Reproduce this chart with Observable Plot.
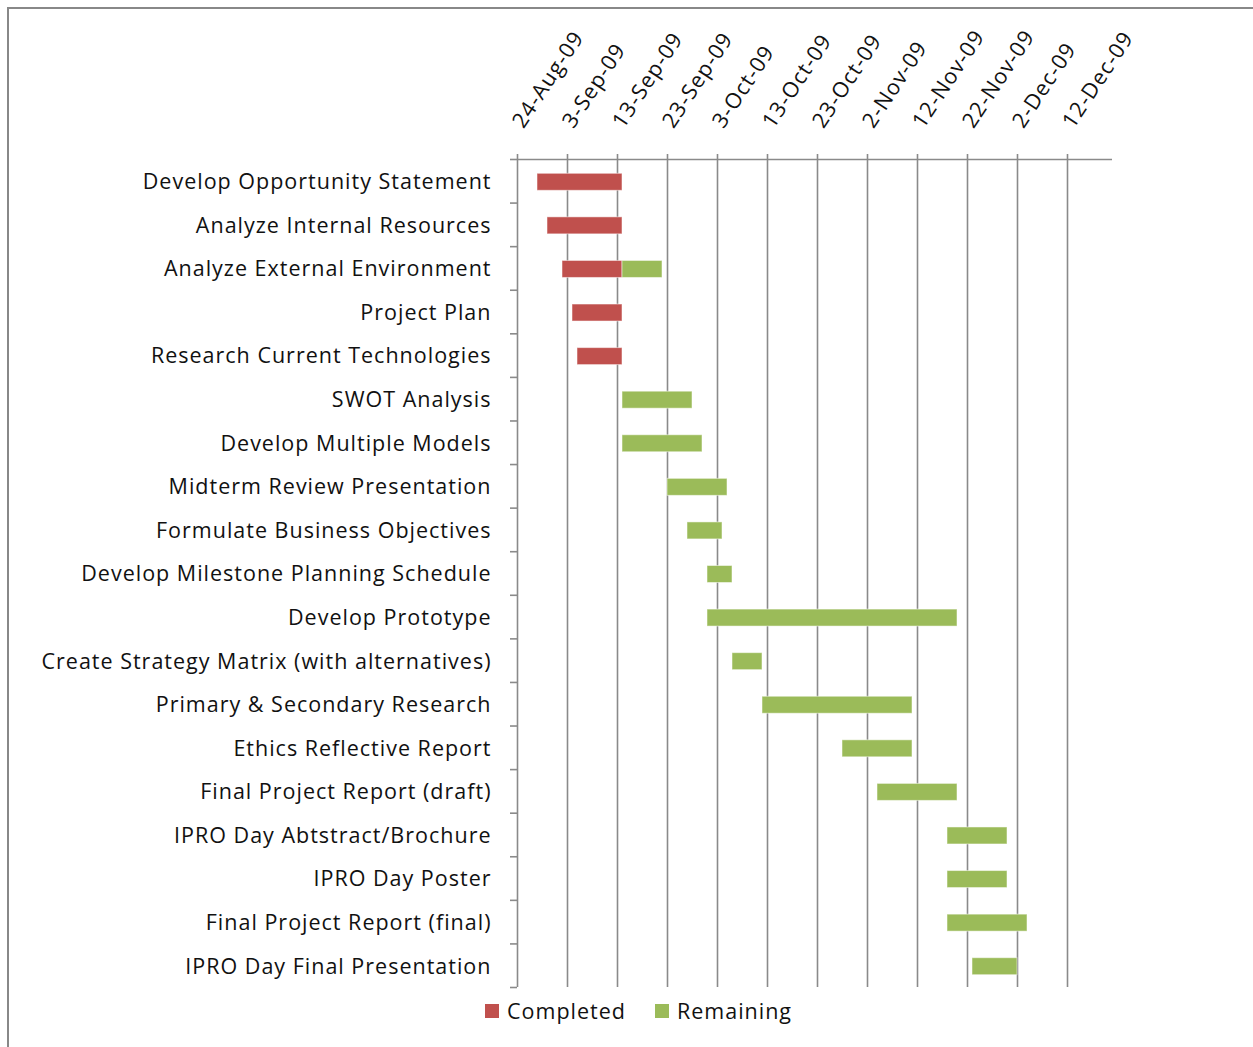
<!DOCTYPE html>
<html>
<head>
<meta charset="utf-8">
<script src="https://cdn.jsdelivr.net/npm/d3@7"></script>
<script src="https://cdn.jsdelivr.net/npm/@observablehq/plot@0.6"></script>
<style>
  html, body { margin: 0; padding: 0; background: #fff; overflow: hidden; }
  body { width: 1253px; height: 1047px; position: relative; font-family: "Open Sans", sans-serif; }
  #frame { position: absolute; left: 7px; top: 7px; width: 1300px; height: 1100px; border: 2px solid #888; box-sizing: border-box; }
  #chart { position: absolute; left: 0; top: 0; }
  #legend { position: absolute; top: 996px; left: 485px; display: flex; align-items: center; font-size: 21.5px; letter-spacing: 1px; color: #111; }
  .sw { width: 14px; height: 14px; display: inline-block; margin-right: 8px; }
  .item { display: flex; align-items: center; margin-right: 29px; }
</style>
</head>
<body>
<div id="frame"></div>
<div id="chart"></div>
<div id="legend"></div>
<script>
// ---- data ----
const tasks = [
  "Develop Opportunity Statement",
  "Analyze Internal Resources",
  "Analyze External Environment",
  "Project Plan",
  "Research Current Technologies",
  "SWOT Analysis",
  "Develop Multiple Models",
  "Midterm Review Presentation",
  "Formulate Business Objectives",
  "Develop Milestone Planning Schedule",
  "Develop Prototype",
  "Create Strategy Matrix (with alternatives)",
  "Primary & Secondary Research",
  "Ethics Reflective Report",
  "Final Project Report (draft)",
  "IPRO Day Abtstract/Brochure",
  "IPRO Day Poster",
  "Final Project Report (final)",
  "IPRO Day Final Presentation"
];
// start date of each task
const starts = [
  "2009-08-28", "2009-08-30", "2009-09-02", "2009-09-04", "2009-09-05",
  "2009-09-14", "2009-09-14", "2009-09-23", "2009-09-27", "2009-10-01",
  "2009-10-01", "2009-10-06", "2009-10-12", "2009-10-28", "2009-11-04",
  "2009-11-18", "2009-11-18", "2009-11-18", "2009-11-23"
];
// days completed / days remaining
const completedDays = [17, 15, 12, 10, 9, 0, 0, 0, 0, 0, 0, 0, 0, 0, 0, 0, 0, 0, 0];
const remainingDays = [0, 0, 8, 0, 0, 14, 16, 12, 7, 5, 50, 6, 30, 14, 16, 12, 12, 16, 9];
const seriesNames = ["Completed", "Remaining"];
const seriesColors = ["#C0504D", "#9BBB59"];
const tickDates = ["2009-08-24", "2009-09-03", "2009-09-13", "2009-09-23", "2009-10-03", "2009-10-13",
  "2009-10-23", "2009-11-02", "2009-11-12", "2009-11-22", "2009-12-02", "2009-12-12"];
const xDomain = ["2009-08-24", "2009-12-21"];

// ---- build table ----
const parse = d3.utcParse("%Y-%m-%d");
const addDays = (d, n) => d3.utcDay.offset(d, n);
const rows = [];
tasks.forEach((t, i) => {
  const s = parse(starts[i]);
  const c = completedDays[i], r = remainingDays[i];
  if (c > 0) rows.push({task: t, i, series: "Completed", x1: s, x2: addDays(s, c)});
  if (r > 0) rows.push({task: t, i, series: "Remaining", x1: addDays(s, c), x2: addDays(s, c + r)});
});
const ticks = tickDates.map(parse);
const fmt = d => `${d.getUTCDate()}-${d3.utcFormat("%b")(d)}-${d3.utcFormat("%y")(d)}`;
const boundaries = d3.range(-0.5, tasks.length, 1);
const half = 0.195;
const font = "'Open Sans', sans-serif";

const chart = Plot.plot({
  width: 1253,
  height: 990,
  marginLeft: 517,
  marginRight: 141,
  marginTop: 159,
  marginBottom: 3,
  style: {fontFamily: font, background: "transparent", color: "#111", letterSpacing: "1px"},
  x: {type: "utc", domain: xDomain.map(parse), axis: null},
  y: {type: "linear", domain: [tasks.length - 0.5, -0.5], axis: null},
  color: {domain: seriesNames, range: seriesColors},
  marks: [
    // gridlines incl. left axis line
    Plot.ruleX(ticks, {x: d => d, stroke: "#8a8a8a", strokeWidth: 1.6}),
    // top axis line
    Plot.ruleY([-0.5], {stroke: "#8a8a8a", strokeWidth: 1.6}),
    // top axis ticks + rotated labels
    Plot.axisX({anchor: "top", ticks, tickSize: 6, tickFormat: () => "", stroke: "#8a8a8a", strokeWidth: 1.6}),
    Plot.text(ticks, {x: d => d, frameAnchor: "top", dy: -30, dx: 6, text: fmt, rotate: -56.5,
      textAnchor: "start", lineAnchor: "bottom", fontSize: 21.5, fill: "#111"}),
    // left axis category boundary ticks
    Plot.axisY({anchor: "left", ticks: boundaries, tickSize: 7, tickFormat: () => "", stroke: "#8a8a8a", strokeWidth: 1.6}),
    // category labels
    Plot.text(tasks, {y: (d, i) => i, frameAnchor: "left", dx: -26, dy: 1, text: d => d,
      textAnchor: "end", fontSize: 21.5, fill: "#111"}),
    // bars
    Plot.rectX(rows, {x1: "x1", x2: "x2", y1: d => d.i - half, y2: d => d.i + half, dy: 1,
      fill: "series", stroke: "#fff", strokeOpacity: 0.5, strokeWidth: 1})
  ]
});
document.getElementById("chart").appendChild(chart);

const lg = document.getElementById("legend");
seriesNames.forEach((n, k) => {
  const it = document.createElement("div");
  it.className = "item";
  it.innerHTML = `<span class="sw" style="background:${seriesColors[k]}"></span><span>${n}</span>`;
  lg.appendChild(it);
});
</script>
</body>
</html>
